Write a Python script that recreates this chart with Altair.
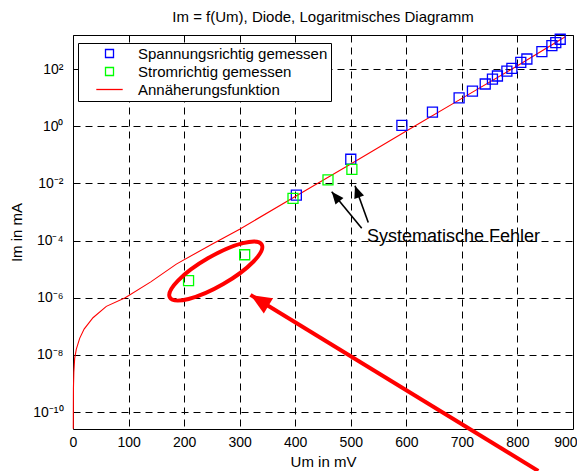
import altair as alt
import pandas as pd

FONT = "Liberation Sans"

# ---- data ----
names = ["Spannungsrichtig gemessen", "Stromrichtig gemessen", "Annäherungsfunktion"]
colors = ["#0000ff", "#00ff00", "#ff0000"]

# Spannungsrichtig gemessen (blue squares): Um in mV, Im in mA
u_span = [402, 500, 592, 647, 695, 719, 742, 755, 764, 781, 790, 806, 817, 844, 862, 869, 877]
i_span = [3.9e-3, 0.070, 1.07, 3.1, 9.8, 17, 30, 44, 57, 85, 105, 172, 224, 405, 660, 835, 1100]

# Stromrichtig gemessen (green squares)
u_strom = [208, 309, 396, 459, 502]
i_strom = [4.0e-6, 3.2e-5, 3.0e-3, 0.0133, 0.031]

# Annäherungsfunktion (red line)
u_fit = [0.5, 0.8, 1.5, 3, 6, 12, 20, 36, 60, 94, 140, 186, 250, 300, 400, 500, 600, 700, 800, 886]
i_fit = [2.6e-11, 7e-10, 2.5e-9, 7.6e-9, 1.6e-8, 3.8e-8, 8e-8, 2.0e-7, 5.0e-7, 1.0e-6,
         3.6e-6, 1.5e-5, 7.5e-5, 2.5e-4, 3.5e-3, 4.8e-2, 0.68, 9.4, 130, 1350]

# axis ticks
x_ticks = [0, 100, 200, 300, 400, 500, 600, 700, 800, 900]
y_exps = [-10, -8, -6, -4, -2, 0, 2]
y_sup = ["⁻¹⁰", "⁻⁸", "⁻⁶", "⁻⁴", "⁻²", "⁰", "²"]

# annotations (data coordinates)
note_text = ["Systematische Fehler"]
note_u = [529]
note_i = [1.37e-4]
# black arrows: start (u0,i0) -> tip (u1,i1)
barr_u0 = [519.7, 531.5]
barr_i0 = [2.7e-4, 4.3e-4]
barr_u1 = [465.7, 507.6]
barr_i1 = [5.1e-3, 8.3e-3]
barr_ang = [320.7, 340.0]
# red arrow
rarr_u0 = [837.5]
rarr_i0 = [8.8e-13]
rarr_u1 = [319.5]
rarr_i1 = [1.26e-6]
rarr_ang = [301.5]
# red ellipse around the two low green points
ell_u = [257]
ell_i = [8.6e-6]

# ---- tables ----
pts = pd.DataFrame({
    "U": u_span + u_strom,
    "I": i_span + i_strom,
    "Serie": [names[0]] * len(u_span) + [names[1]] * len(u_strom),
})
fit = pd.DataFrame({"U": u_fit, "I": i_fit, "Serie": names[2]})
notes = pd.DataFrame({"U": note_u, "I": note_i, "t": note_text})
barr = pd.DataFrame({"U0": barr_u0, "I0": barr_i0, "U1": barr_u1, "I1": barr_i1, "ang": barr_ang})
rarr = pd.DataFrame({"U0": rarr_u0, "I0": rarr_i0, "U1": rarr_u1, "I1": rarr_i1, "ang": rarr_ang})
ell = pd.DataFrame({"U": ell_u, "I": ell_i})

xscale = alt.Scale(domain=[0, 900], nice=False, zero=False)
yscale = alt.Scale(type="log", domain=[2.57e-11, 1549], nice=False)

label_expr = "'10' + (" + " : ".join(
    f"round(log(datum.value)/LN10) == {e} ? '{s}'" for e, s in zip(y_exps, y_sup)
) + " : '')"

xaxis = alt.Axis(values=x_ticks, title="Um in mV", grid=True, gridDash=[7, 5], gridColor="black",
                 gridOpacity=1, ticks=False, domain=False, labelFontSize=14, titleFontSize=15,
                 labelPadding=6, titlePadding=5, labelFlush=False,
                 labelAlign={"condition": {"test": "datum.value == 900", "value": "right"}, "value": "center"},
                 labelOffset={"condition": {"test": "datum.value == 900", "value": 4}, "value": 0})
yaxis = alt.Axis(values=[10.0 ** e for e in y_exps], title="Im in mA", grid=True, gridDash=[7, 5],
                 gridColor="black", gridOpacity=1, ticks=False, domain=False, labelFontSize=14,
                 titleFontSize=15, labelPadding=10, titlePadding=8, labelExpr=label_expr)

legend = alt.Legend(title=None, orient="none", legendX=5, legendY=8, strokeColor="black",
                    fillColor="white", padding=3, rowPadding=2, symbolSize=64,
                    symbolStrokeWidth=1.3, symbolOffset=21, labelOffset=21, labelFontSize=15,
                    labelFont=FONT, labelColor="black", labelLimit=400, cornerRadius=0)

color = alt.Color("Serie:N", scale=alt.Scale(domain=names, range=colors), legend=legend)
shape = alt.Shape("Serie:N", scale=alt.Scale(domain=names, range=["square", "square", "M -3.3 0 L 3.3 0"]),
                  legend=legend)

X = alt.X("U:Q", scale=xscale, axis=xaxis)
Y = alt.Y("I:Q", scale=yscale, axis=yaxis)

line = alt.Chart(fit).mark_line(strokeWidth=1.1).encode(x=X, y=Y, color=color)
points = alt.Chart(pts).mark_point(filled=False, size=100, strokeWidth=1.3, opacity=1).encode(
    x=X, y=Y, color=color, shape=shape)

k = 0.283
c = 0.5523
ell_path = (f"M -1 0 C -1 {-k*c:.4f} {-c} {-k} 0 {-k} C {c} {-k} 1 {-k*c:.4f} 1 0 "
            f"C 1 {k*c:.4f} {c} {k} 0 {k} C {-c} {k} -1 {k*c:.4f} -1 0 Z")
ellipse = alt.Chart(ell).mark_point(shape=ell_path, filled=False, size=11236, strokeWidth=4,
                                    color="#ff0000", angle=330, opacity=1).encode(
    x=alt.X("U:Q", scale=xscale), y=alt.Y("I:Q", scale=yscale))

head_path = "M 0 0 L 0.42 1 L -0.42 1 Z"

b_shaft = alt.Chart(barr).mark_rule(strokeWidth=1.6, color="black").encode(
    x=alt.X("U0:Q", scale=xscale), y=alt.Y("I0:Q", scale=yscale), x2="U1:Q", y2="I1:Q")
b_head = alt.Chart(barr).mark_point(shape=head_path, filled=True, size=600, color="black",
                                    opacity=1, strokeWidth=0).encode(
    x=alt.X("U1:Q", scale=xscale), y=alt.Y("I1:Q", scale=yscale), angle=alt.Angle("ang:Q", scale=None))

r_shaft = alt.Chart(rarr).mark_rule(strokeWidth=4, color="#ff0000").encode(
    x=alt.X("U0:Q", scale=xscale), y=alt.Y("I0:Q", scale=yscale), x2="U1:Q", y2="I1:Q")
r_head = alt.Chart(rarr).mark_point(shape=head_path, filled=True, size=1764, color="#ff0000",
                                    opacity=1, strokeWidth=0).encode(
    x=alt.X("U1:Q", scale=xscale), y=alt.Y("I1:Q", scale=yscale), angle=alt.Angle("ang:Q", scale=None))

text = alt.Chart(notes).mark_text(align="left", baseline="middle", fontSize=18, font=FONT,
                                  color="black").encode(
    x=alt.X("U:Q", scale=xscale), y=alt.Y("I:Q", scale=yscale), text="t:N")

chart = alt.layer(line, points, ellipse, b_shaft, b_head, text, r_shaft, r_head).properties(
    width=500, height=394,
    title=alt.TitleParams("Im = f(Um), Diode, Logaritmisches Diagramm", fontSize=15,
                          fontWeight="normal", font=FONT, color="black", offset=7, anchor="middle"),
    padding={"left": 65, "top": 27, "right": 4, "bottom": 42},
    autosize=alt.AutoSizeParams(type="none"),
).configure_axis(
    labelFont=FONT, titleFont=FONT, labelColor="black", titleColor="black", titleFontWeight="normal"
).configure_view(
    stroke="black", strokeWidth=1
).resolve_scale(color="shared", shape="shared")

chart.save("out.html", embed_options={"renderer": "svg", "actions": False})
